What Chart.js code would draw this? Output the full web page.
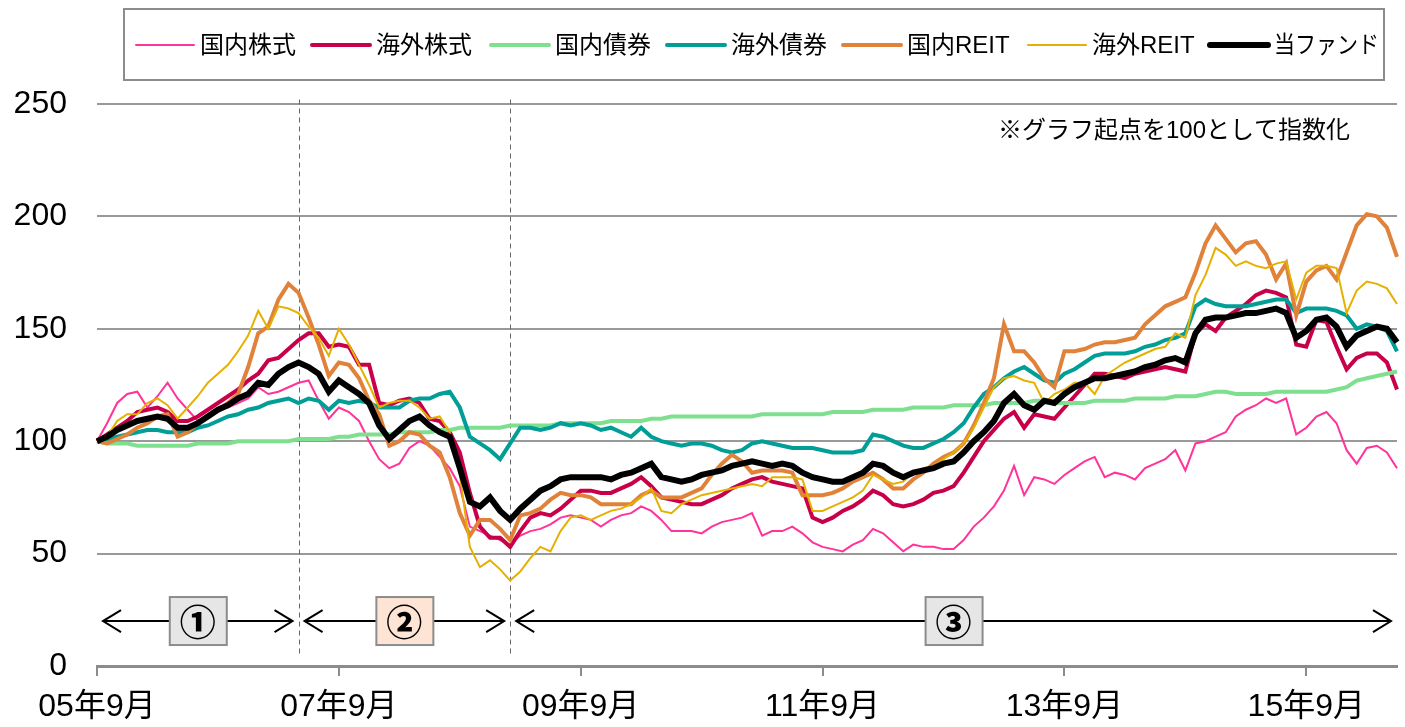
<!DOCTYPE html>
<html>
<head>
<meta charset="utf-8">
<script src="https://cdn.jsdelivr.net/npm/chart.js@4/dist/chart.umd.min.js"></script>
<style>
  body { margin: 0; background: #fff; }
  #wrap { width: 1405px; height: 727px; }
</style>
</head>
<body>
<div id="wrap"><canvas id="fundChart" width="1405" height="727"></canvas></div>
<script>
// month labels 05年9月 .. 16年6月
var months = [];
for (var i = 0; i < 130; i++) {
    var yy = 5 + Math.floor((8 + i) / 12);
    var mo = (8 + i) % 12 + 1;
    months.push(String(yy).padStart(2, '0') + '年' + mo + '月');
}
var xTickLabels = ['05年9月', '07年9月', '09年9月', '11年9月', '13年9月', '15年9月'];
var yTicks = [0, 50, 100, 150, 200, 250];

var seriesNames = ['国内株式', '海外株式', '国内債券', '海外債券', '国内REIT', '海外REIT', '当ファンド'];

var domStock = [
    100,108,117,121,122,115,120,126,119,114,109,112,
    114,115,117,119,124,121,122,124,126,127,118,110,
    115,113,109,100,92,88,90,97,100,98,93,88,
    80,62,60,58,56,54,58,60,61,63,66,67,
    66,65,62,65,67,68,71,69,65,60,60,60,
    59,62,64,65,66,68,58,60,60,62,59,55,
    53,52,51,54,56,61,59,55,51,54,53,53,
    52,52,56,62,66,71,78,89,76,84,83,81,
    85,88,91,93,84,86,85,83,88,90,92,96,
    87,99,100,102,104,111,114,116,119,117,119,103,
    106,111,113,108,96,90,97,98,95,88
];
var forStock = [
    100,103,106,109,113,114,115,113,109,109,111,114,
    117,120,123,127,130,136,137,141,145,148,148,142,
    143,142,134,134,117,116,118,119,117,110,109,104,
    95,77,62,57,57,53,60,66,68,67,70,74,
    78,78,77,77,79,81,84,80,75,74,73,72,
    72,74,76,79,81,83,84,82,81,80,79,66,
    64,66,69,71,74,78,76,72,71,72,74,77,
    78,80,86,93,100,105,110,113,106,112,111,110,
    115,120,125,130,130,129,128,130,131,132,133,132,
    131,148,152,149,155,158,161,165,167,166,164,143,
    142,154,153,142,132,137,139,139,135,123
];
var domBond = [
    100,99,99,99,98,98,98,98,98,98,99,99,
    99,99,100,100,100,100,100,100,101,101,101,101,
    102,102,103,103,103,103,104,104,104,104,105,105,
    106,106,106,106,106,107,107,107,107,107,108,108,
    108,108,108,109,109,109,109,110,110,111,111,111,
    111,111,111,111,111,111,112,112,112,112,112,112,
    112,113,113,113,113,114,114,114,114,115,115,115,
    115,116,116,116,116,117,117,117,117,118,118,117,
    117,117,117,118,118,118,118,119,119,119,119,120,
    120,120,121,122,122,121,121,121,121,122,122,122,
    122,122,122,123,124,127,128,129,130,131
];
var forBond = [
    100,101,102,103,104,105,105,104,104,104,106,107,
    109,111,112,114,115,117,118,119,117,119,118,114,
    118,117,118,117,115,115,115,118,119,119,121,122,
    115,102,99,96,92,99,106,106,105,106,108,107,
    108,107,105,106,104,102,106,102,100,99,98,99,
    99,98,96,95,96,99,100,99,98,97,97,97,
    96,95,95,95,96,103,102,100,98,97,97,99,
    101,104,108,115,121,124,128,131,133,130,127,126,
    130,132,135,138,139,139,139,140,142,143,145,146,
    148,160,163,161,160,160,160,161,162,163,163,157,
    159,159,159,158,156,150,152,151,149,140
];
var domReit = [
    100,99,101,103,106,108,111,112,102,104,108,111,
    114,117,121,133,148,151,163,170,166,155,143,129,
    135,134,128,118,112,98,100,104,103,98,95,84,
    68,58,65,65,61,56,67,68,70,74,77,76,
    76,75,72,72,72,72,76,78,75,75,75,77,
    79,85,90,94,91,86,87,87,87,86,76,76,
    76,77,79,82,84,86,83,79,79,83,86,90,
    93,95,99,107,117,128,152,140,140,135,128,124,
    140,140,141,143,144,144,145,146,152,156,160,162,
    164,175,188,196,190,184,188,189,183,172,179,156,
    171,176,178,172,184,196,201,200,195,182
];
var forReit = [
    100,102,109,112,112,117,119,116,110,115,120,126,
    130,134,140,147,158,150,160,159,157,151,146,138,
    150,143,134,125,115,117,118,118,115,110,111,104,
    85,53,44,47,43,38,42,48,53,51,60,66,
    67,65,67,69,70,72,75,79,69,68,72,74,
    76,77,78,79,80,81,80,84,84,84,83,69,
    69,71,73,75,78,85,83,81,82,86,88,89,
    92,95,99,106,115,124,128,129,127,126,117,121,
    123,126,126,121,129,132,135,137,139,141,142,148,
    146,165,174,186,183,178,180,178,177,179,180,163,
    175,178,178,177,157,167,171,170,168,161
];
var fund = [
    100,102,105,107,109,110,111,110,106,106,108,111,
    114,116,119,121,126,125,130,133,135,133,130,122,
    127,124,121,117,107,101,105,109,111,107,104,102,
    88,73,71,75,69,65,70,74,78,80,83,84,
    84,84,84,83,85,86,88,90,84,83,82,83,
    85,86,87,89,90,91,90,89,90,89,86,84,
    83,82,82,84,86,90,89,86,84,86,87,88,
    90,91,95,100,104,109,117,121,116,114,118,117,
    121,124,126,128,128,129,130,131,133,134,136,137,
    135,148,154,155,155,156,157,157,158,159,157,146,
    149,154,155,151,142,147,149,151,150,144
];

// period markers
var periodLines = ['07年5月', '09年2月'];
var periodLabels = ['①', '②', '③'];
var periodFills = ['#e6e6e6', '#fde4d4', '#e6e6e6'];
var arrowLevel = 20;
var noteText = '※グラフ起点を100として指数化';

var seriesData = [domStock, forStock, domBond, forBond, domReit, forReit, fund];
var colors = ['#ff3399', '#c8004a', '#7ee08e', '#009e96', '#e0823a', '#e6b000', '#000000'];
var widths = [2, 4, 4, 4, 4, 2, 6];

var FONT = '"Liberation Sans", "Noto Sans CJK JP", sans-serif';

var datasets = [];
for (var k = 0; k < seriesNames.length; k++) {
    datasets.push({
        label: seriesNames[k],
        data: seriesData[k],
        borderColor: colors[k],
        backgroundColor: colors[k],
        borderWidth: widths[k],
        pointRadius: 0,
        tension: 0,
        order: seriesNames.length - k
    });
}

function drawArrow(ctx, x1, x2, y) {
    ctx.beginPath();
    ctx.moveTo(x1, y);
    ctx.lineTo(x2, y);
    ctx.moveTo(x1 + 18, y - 11);
    ctx.lineTo(x1, y);
    ctx.lineTo(x1 + 18, y + 11);
    ctx.moveTo(x2 - 18, y - 11);
    ctx.lineTo(x2, y);
    ctx.lineTo(x2 - 18, y + 11);
    ctx.stroke();
}

var periodPlugin = {
    id: 'periods',
    beforeDatasetsDraw: function (chart) {
        var ctx = chart.ctx, xs = chart.scales.x, ys = chart.scales.y;
        ctx.save();
        ctx.strokeStyle = '#666';
        ctx.lineWidth = 1;
        ctx.setLineDash([5, 4]);
        periodLines.forEach(function (lab) {
            var x = Math.round(xs.getPixelForValue(months.indexOf(lab))) + 0.5;
            ctx.beginPath();
            ctx.moveTo(x, ys.getPixelForValue(252));
            ctx.lineTo(x, ys.getPixelForValue(4));
            ctx.stroke();
        });
        ctx.restore();
    },
    afterDraw: function (chart) {
        var ctx = chart.ctx, xs = chart.scales.x, ys = chart.scales.y;
        var bounds = [0, months.indexOf(periodLines[0]), months.indexOf(periodLines[1]), months.length - 1];
        var y = ys.getPixelForValue(arrowLevel);
        ctx.save();
        for (var p = 0; p < 3; p++) {
            var a = xs.getPixelForValue(bounds[p]) + 6;
            var b = xs.getPixelForValue(bounds[p + 1]) - 6;
            ctx.strokeStyle = '#000';
            ctx.lineWidth = 2;
            drawArrow(ctx, a, b, y);
            var cx = (a + b) / 2;
            ctx.fillStyle = periodFills[p];
            ctx.fillRect(cx - 28, y - 24, 57, 48);
            ctx.strokeStyle = '#8c8c8c';
            ctx.strokeRect(cx - 28, y - 24, 57, 48);
            ctx.fillStyle = '#000';
            ctx.font = '900 36px "Noto Sans CJK JP", sans-serif';
            ctx.textAlign = 'center';
            ctx.textBaseline = 'middle';
            ctx.fillText(periodLabels[p], cx, y + 1);
        }
        // note
        ctx.font = '24px ' + FONT;
        ctx.textAlign = 'left';
        ctx.fillText(noteText, 998, 131);

        // legend
        var starts = [136, 312, 491, 667, 843, 1028, 1210];
        var textW = [98, 99, 100, 102, 108, 108, 105];
        ctx.strokeStyle = '#8c8c8c';
        ctx.lineWidth = 2;
        ctx.strokeRect(124, 9, 1260, 71);
        ctx.font = '24px ' + FONT;
        ctx.textBaseline = 'middle';
        chart.data.datasets.forEach(function (ds, j) {
            ctx.strokeStyle = ds.borderColor;
            ctx.lineWidth = ds.borderWidth;
            ctx.lineCap = 'round';
            ctx.beginPath();
            ctx.moveTo(starts[j], 45);
            ctx.lineTo(starts[j] + 58, 45);
            ctx.stroke();
            ctx.fillStyle = '#000';
            ctx.fillText(ds.label, starts[j] + 64, 46, textW[j]);
        });
        ctx.restore();
    }
};

new Chart(document.getElementById('fundChart').getContext('2d'), {
    type: 'line',
    data: { labels: months, datasets: datasets },
    options: {
        responsive: false,
        animation: false,
        devicePixelRatio: 1,
        layout: { padding: { left: 0, right: 8, top: 104, bottom: 0 } },
        plugins: { legend: { display: false }, tooltip: { enabled: false } },
        scales: {
            x: {
                offset: false,
                afterFit: function (s) { s.height = 61; },
                grid: { drawOnChartArea: false, drawTicks: true, tickLength: 10, color: '#8c8c8c', lineWidth: 2 },
                border: { color: '#8c8c8c', width: 3 },
                ticks: {
                    autoSkip: false,
                    maxRotation: 0,
                    padding: 12,
                    color: '#000',
                    font: { size: 32, family: FONT },
                    callback: function (v) {
                        var lab = this.getLabelForValue(v);
                        return xTickLabels.indexOf(lab) >= 0 ? lab : null;
                    }
                }
            },
            y: {
                min: yTicks[0],
                max: yTicks[yTicks.length - 1],
                afterFit: function (s) { s.width = 97; },
                afterBuildTicks: function (s) { s.ticks = yTicks.map(function (v) { return { value: v }; }); },
                grid: { color: '#999', lineWidth: 2, drawTicks: false },
                border: { display: false },
                ticks: { padding: 30, color: '#000', font: { size: 32, family: FONT } }
            }
        }
    },
    plugins: [periodPlugin]
});
</script>
</body>
</html>
